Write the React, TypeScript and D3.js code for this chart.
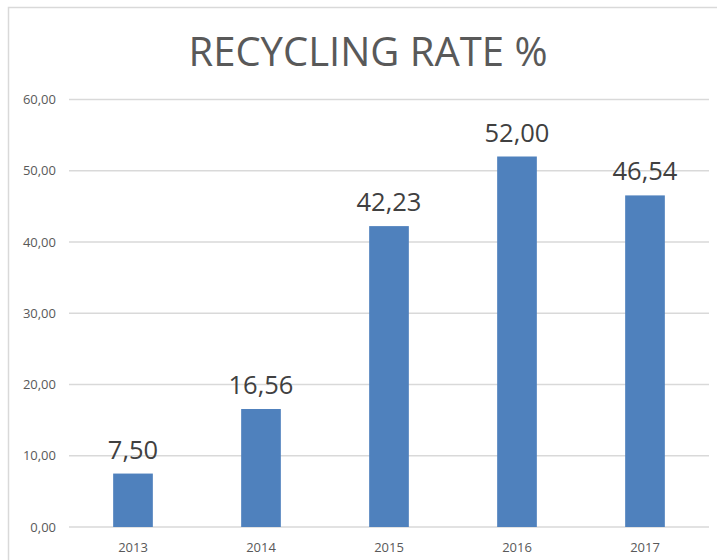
import React from 'react'
import * as d3 from 'd3'

const years = ['2013', '2014', '2015', '2016', '2017']
const rates = [7.5, 16.56, 42.23, 52.0, 46.54]
const yTicks = [0, 10, 20, 30, 40, 50, 60]

const width = 717
const height = 560
const margin = { top: 99.5, right: 8, bottom: 33, left: 69 }

const fmt = (v: number) => v.toFixed(2).replace('.', ',')
const font = '"Open Sans", "Noto Sans", sans-serif'

function App() {
    const x = d3.scaleBand()
        .domain(years)
        .range([margin.left, width - margin.right])
        .paddingInner(0.69)
        .paddingOuter(0.345)
    const y = d3.scaleLinear()
        .domain([0, 60])
        .range([height - margin.bottom, margin.top])

    return (
        <svg width={width} height={height} style={{ position: 'absolute', left: 0, top: 0 }}>
            <rect x={0} y={0} width={width} height={height} fill="#fff" />
            <rect x={8.5} y={7.5} width={width + 20} height={height + 20} fill="#fff" stroke="#d9d9d9" strokeWidth={1.5} />
            <text x={368} y={66} textAnchor="middle" fontFamily={font} fontSize={40} fill="#595959">RECYCLING RATE %</text>
            {yTicks.map(t => (
                <g key={t}>
                    <line x1={margin.left} x2={width - margin.right} y1={y(t)} y2={y(t)} stroke="#d9d9d9" strokeWidth={1.3} />
                    <text x={56} y={y(t)} dy="0.35em" textAnchor="end" fontFamily={font} fontSize={13} fill="#595959">{fmt(t)}</text>
                </g>
            ))}
            {years.map((yr, i) => (
                <g key={yr}>
                    <rect x={x(yr)} y={y(rates[i])} width={x.bandwidth()} height={y(0) - y(rates[i])} fill="#4f81bd" />
                    <text x={x(yr)! + x.bandwidth() / 2} y={y(rates[i]) - 15} textAnchor="middle" fontFamily={font} fontSize={25.5} fill="#404040">{fmt(rates[i])}</text>
                    <text x={x(yr)! + x.bandwidth() / 2} y={y(0) + 20} dy="0.35em" textAnchor="middle" fontFamily={font} fontSize={13} fill="#595959">{yr}</text>
                </g>
            ))}
        </svg>
    )
}

export default App
